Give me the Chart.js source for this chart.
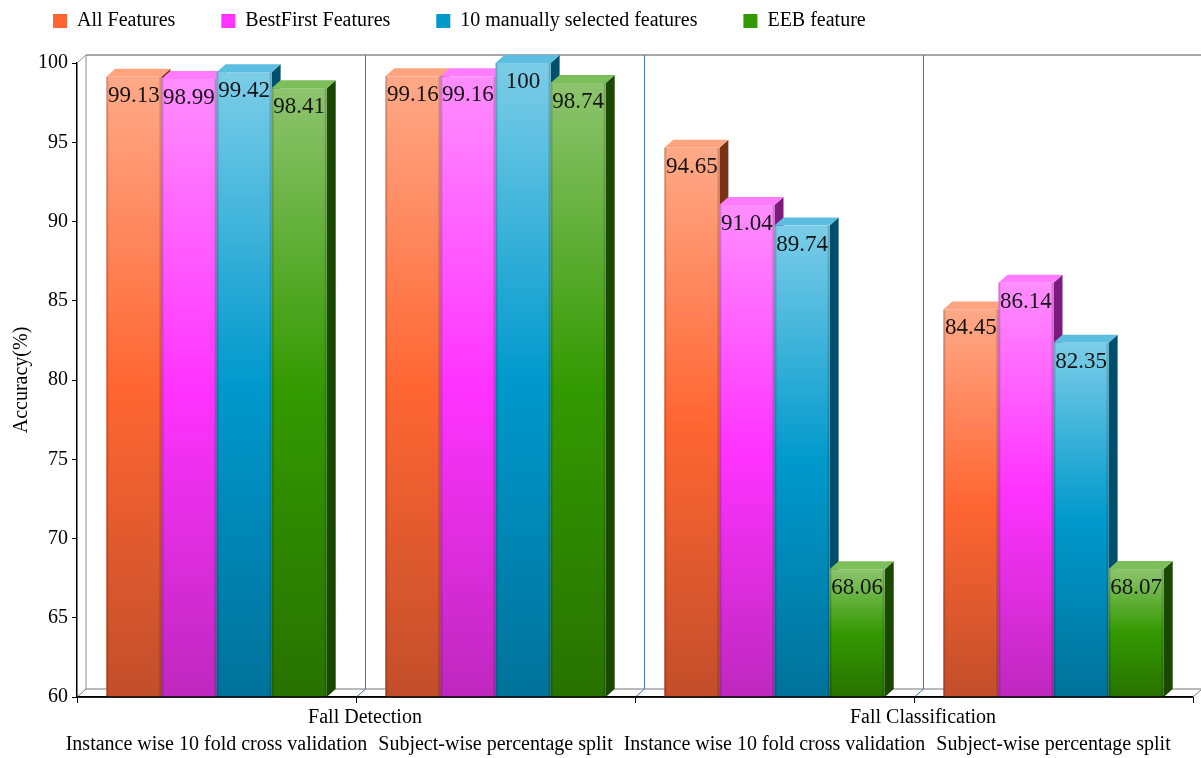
<!DOCTYPE html>
<html>
<head>
<meta charset="utf-8">
<script src="https://cdn.jsdelivr.net/npm/chart.js@4.4.1/dist/chart.umd.min.js"></script>
<style>
  html, body { margin: 0; padding: 0; background: #ffffff; }
  #wrap { width: 1201px; height: 758px; position: relative; }
</style>
</head>
<body>
<div id="wrap"><canvas id="accuracyChart"></canvas></div>
<script>
// ---- data ----
const categories = [
  'Instance wise 10 fold cross validation',
  'Subject-wise percentage split',
  'Instance wise 10 fold cross validation',
  'Subject-wise percentage split'
];
const groupNames = ['Fall Detection', 'Fall Classification'];
const groupOfCategory = [0, 0, 1, 1];

const seriesNames = ['All Features', 'BestFirst Features', '10 manually selected features', 'EEB feature'];
const allFeatures    = [99.13, 99.16, 94.65, 84.45];
const bestFirst      = [98.99, 99.16, 91.04, 86.14];
const manualTen      = [99.42, 100,   89.74, 82.35];
const eebFeature     = [98.41, 98.74, 68.06, 68.07];

const yMin = 60, yMax = 100, yStep = 5;
const yTitle = 'Accuracy(%)';

// ---- look ----
const SERIF = '"Liberation Serif", "Times New Roman", serif';
const DEPTH_X = 9, DEPTH_Y = 8;
const palette = [
  { base: '#FF6633', light: '#FFA988', dark: '#C24E2A', side: '#7A3217', top: '#FFA47F' },
  { base: '#FF33FF', light: '#FF8EFF', dark: '#BE28BE', side: '#7E1A7E', top: '#FF7CFF' },
  { base: '#0099CC', light: '#7CCDE8', dark: '#00729A', side: '#004F6C', top: '#5BBEE0' },
  { base: '#339900', light: '#8DC46E', dark: '#287200', side: '#1B4800', top: '#7CBE5A' }
];

function fillPoly(ctx, pts, color) {
  ctx.beginPath();
  ctx.moveTo(pts[0][0], pts[0][1]);
  for (let i = 1; i < pts.length; i++) ctx.lineTo(pts[i][0], pts[i][1]);
  ctx.closePath();
  ctx.fillStyle = color;
  ctx.fill();
}
function line(ctx, x0, y0, x1, y1, color, w) {
  ctx.beginPath();
  ctx.moveTo(x0, y0);
  ctx.lineTo(x1, y1);
  ctx.strokeStyle = color;
  ctx.lineWidth = w;
  ctx.stroke();
}

// Draws the box frame, the extruded bars and their value labels.
const box3d = {
  id: 'box3d',
  beforeDatasetsDraw(chart) {
    const { ctx, chartArea } = chart;
    const { left, right, top, bottom } = chartArea;
    const n = chart.data.labels.length;
    const catW = (right - left) / n;
    ctx.save();

    // back wall top edge and left wall
    line(ctx, left + DEPTH_X, top - DEPTH_Y, right + DEPTH_X, top - DEPTH_Y, '#8a8a8a', 1.6);
    line(ctx, left, top, left + DEPTH_X, top - DEPTH_Y, '#8a8a8a', 1);
    line(ctx, left + DEPTH_X, top - DEPTH_Y, left + DEPTH_X, bottom - DEPTH_Y, '#8a8a8a', 1);
    // floor
    line(ctx, left + DEPTH_X, bottom - DEPTH_Y, right + DEPTH_X, bottom - DEPTH_Y, '#777777', 1);
    line(ctx, left, bottom, left + DEPTH_X, bottom - DEPTH_Y, '#777777', 1);
    line(ctx, right, bottom, right + DEPTH_X, bottom - DEPTH_Y, '#777777', 1);
    // category separators on the back wall
    for (let k = 1; k < n; k++) {
      const xb = Math.round(left + k * catW) + 0.5;
      line(ctx, xb, bottom, xb + DEPTH_X, bottom - DEPTH_Y, '#4573b8', 1);
      line(ctx, xb + DEPTH_X, bottom - DEPTH_Y, xb + DEPTH_X, top - DEPTH_Y, '#4573b8', 1);
    }

    // bars, left to right so every front face covers the previous side face
    for (let c = 0; c < n; c++) {
      chart.data.datasets.forEach((ds, d) => {
        const el = chart.getDatasetMeta(d).data[c];
        if (!el) return;
        const p = palette[d];
        const x0 = el.x - el.width / 2, x1 = el.x + el.width / 2;
        const yt = Math.max(el.y, top), yb = Math.min(el.base, bottom);
        fillPoly(ctx, [[x1, yt], [x1 + DEPTH_X, yt - DEPTH_Y], [x1 + DEPTH_X, yb - DEPTH_Y], [x1, yb]], p.side);
        fillPoly(ctx, [[x0, yt], [x0 + DEPTH_X, yt - DEPTH_Y], [x1 + DEPTH_X, yt - DEPTH_Y], [x1, yt]], p.top);
        const g = ctx.createLinearGradient(0, yt, 0, yb);
        g.addColorStop(0, p.light);
        g.addColorStop(0.5, p.base);
        g.addColorStop(1, p.dark);
        ctx.fillStyle = g;
        ctx.fillRect(x0, yt, x1 - x0, yb - yt);
        // soft edge shading on the front face
        ctx.fillStyle = 'rgba(0,0,0,0.16)';
        ctx.fillRect(x0, yt, 2, yb - yt);
        ctx.fillRect(x1 - 2, yt, 2, yb - yt);
      });
    }

    // value labels
    ctx.font = '23px ' + SERIF;
    ctx.fillStyle = '#141414';
    ctx.textAlign = 'center';
    ctx.textBaseline = 'alphabetic';
    chart.data.datasets.forEach((ds, d) => {
      chart.getDatasetMeta(d).data.forEach((el, i) => {
        ctx.fillText(String(ds.data[i]), el.x, el.y + 25);
      });
    });

    // front floor edge
    line(ctx, left, bottom, right, bottom, '#000000', 1.5);
    ctx.restore();
    return false;
  },
  afterDraw(chart) {
    const { ctx } = chart;
    const xs = chart.scales.x;
    ctx.save();
    ctx.font = '20px ' + SERIF;
    ctx.fillStyle = '#000000';
    ctx.textBaseline = 'middle';

    // category labels
    ctx.textAlign = 'center';
    chart.data.labels.forEach((lab, i) => {
      ctx.fillText(lab, xs.getPixelForValue(i), 745);
    });
    // group labels, centred under their categories
    groupNames.forEach((name, g) => {
      const idx = groupOfCategory.map((v, i) => (v === g ? i : -1)).filter(i => i >= 0);
      const cx = (xs.getPixelForValue(idx[0]) + xs.getPixelForValue(idx[idx.length - 1])) / 2 + DEPTH_X;
      ctx.fillText(name, cx, 718);
    });

    // legend
    let lx = 53;
    const ly = 21;
    ctx.textAlign = 'left';
    chart.data.datasets.forEach((ds, d) => {
      ctx.fillStyle = palette[d].base;
      ctx.fillRect(lx, ly - 7, 14, 14);
      ctx.fillStyle = '#000000';
      const tx = lx + 14 + 10;
      ctx.fillText(ds.label, tx, ly);
      lx = tx + ctx.measureText(ds.label).width + 46;
    });
    ctx.restore();
  }
};

const seriesValues = [allFeatures, bestFirst, manualTen, eebFeature];

new Chart(document.getElementById('accuracyChart'), {
  type: 'bar',
  data: {
    labels: categories,
    datasets: seriesValues.map((vals, d) => ({
      label: seriesNames[d],
      data: vals,
      backgroundColor: palette[d].base,
      categoryPercentage: 0.79,
      barPercentage: 1.0
    }))
  },
  options: {
    responsive: true,
    maintainAspectRatio: false,
    animation: false,
    layout: { padding: { left: 0, right: 8, top: 63, bottom: 0 } },
    plugins: { legend: { display: false }, tooltip: { enabled: false } },
    scales: {
      x: {
        ticks: { display: false },
        grid: { display: true, drawOnChartArea: false, offset: true, tickLength: 6, color: '#000000' },
        border: { display: true, color: '#000000', width: 1.5 },
        afterFit(scale) { scale.height = 61; }
      },
      y: {
        min: yMin,
        max: yMax,
        ticks: { stepSize: yStep, color: '#000000', font: { family: SERIF, size: 20 }, padding: 4 },
        grid: { display: true, drawOnChartArea: false, tickLength: 5, color: '#000000' },
        border: { display: true, color: '#000000', width: 1.5 },
        title: { display: true, text: yTitle, color: '#000000', font: { family: SERIF, size: 20 }, padding: { top: 10, bottom: 0 } },
        afterFit(scale) { scale.width = 77; }
      }
    }
  },
  plugins: [box3d]
});
</script>
</body>
</html>
